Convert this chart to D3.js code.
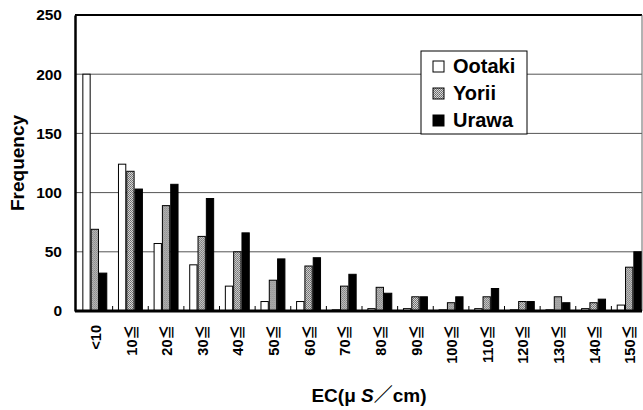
<!DOCTYPE html>
<html>
<head>
<meta charset="utf-8">
<script src="https://cdn.jsdelivr.net/npm/d3@7"></script>
<style>
  body { margin: 0; background: #fff; }
  svg { display: block; }
</style>
</head>
<body>
<svg id="chart"></svg>
<script>
const categories = ["<10", "10≦", "20≦", "30≦", "40≦", "50≦", "60≦", "70≦",
  "80≦", "90≦", "100≦", "110≦", "120≦", "130≦", "140≦", "150≦"];
const seriesNames = ["Ootaki", "Yorii", "Urawa"];
const ootaki = [200, 124, 57, 39, 21, 8, 8, 1, 2, 2, 1, 2, 1, 1, 2, 5];
const yorii = [69, 118, 89, 63, 50, 26, 38, 21, 20, 12, 7, 12, 8, 12, 7, 37];
const urawa = [32, 103, 107, 95, 66, 44, 45, 31, 15, 12, 12, 19, 8, 7, 10, 50];
const yTicks = [0, 50, 100, 150, 200, 250];

const width = 643, height = 410;
const plot = { left: 75, right: 642, top: 15, bottom: 311 };

const svg = d3.select("#chart").attr("width", width).attr("height", height);

// stippled grey like the scanned original
const defs = svg.append("defs");
const pat = defs.append("pattern")
  .attr("id", "stipple")
  .attr("width", 2).attr("height", 2)
  .attr("patternUnits", "userSpaceOnUse");
pat.append("rect").attr("width", 2).attr("height", 2).attr("fill", "#d8d8d8");
pat.append("rect").attr("width", 1).attr("height", 1).attr("fill", "#666");
pat.append("rect").attr("x", 1).attr("y", 1).attr("width", 1).attr("height", 1).attr("fill", "#777");

const fills = { Ootaki: "#fff", Yorii: "url(#stipple)", Urawa: "#000" };

const x0 = d3.scaleBand()
  .domain(categories)
  .range([77, 647])
  .paddingInner(0.3)
  .paddingOuter(0.15);

const x1 = d3.scaleBand()
  .domain(seriesNames)
  .range([0, x0.bandwidth()]);

const y = d3.scaleLinear()
  .domain([0, 250])
  .range([plot.bottom, plot.top]);

const rows = categories.map((c, i) => ({
  cat: c,
  Ootaki: ootaki[i],
  Yorii: yorii[i],
  Urawa: urawa[i]
}));

// gridlines
svg.append("g")
  .selectAll("line")
  .data(yTicks.filter(t => t > 0 && t < 250))
  .enter().append("line")
  .attr("x1", plot.left).attr("x2", plot.right)
  .attr("y1", d => y(d)).attr("y2", d => y(d))
  .attr("stroke", "#555")
  .attr("stroke-width", 1);

// frame
svg.append("line")
  .attr("x1", plot.left).attr("x2", plot.right)
  .attr("y1", y(250)).attr("y2", y(250))
  .attr("stroke", "#000").attr("stroke-width", 2);
svg.append("line")
  .attr("x1", plot.right).attr("x2", plot.right)
  .attr("y1", y(250)).attr("y2", y(0))
  .attr("stroke", "#666").attr("stroke-width", 1);

// bars
const groups = svg.append("g")
  .selectAll("g")
  .data(rows)
  .enter().append("g")
  .attr("transform", d => `translate(${x0(d.cat)},0)`);

groups.selectAll("rect")
  .data(d => seriesNames.map(s => ({ s, v: d[s] })))
  .enter().append("rect")
  .attr("x", d => x1(d.s) + 0.5)
  .attr("y", d => y(d.v))
  .attr("width", x1.bandwidth() - 1)
  .attr("height", d => y(0) - y(d.v))
  .attr("fill", d => fills[d.s])
  .attr("stroke", "#000")
  .attr("stroke-width", 1);

// y axis
const yAxis = svg.append("g")
  .attr("transform", `translate(${plot.left},0)`)
  .call(d3.axisLeft(y).tickValues(yTicks).tickSize(0).tickPadding(13));
yAxis.select(".domain").attr("stroke", "#000").attr("stroke-width", 2.5);
yAxis.selectAll("text")
  .attr("font-family", "Liberation Sans, Arial, sans-serif")
  .attr("font-size", 15.5)
  .attr("font-weight", "bold")
  .attr("fill", "#000");

// x axis
const xAxis = svg.append("g")
  .attr("transform", `translate(0,${plot.bottom})`)
  .call(d3.axisBottom(x0).tickSize(0).tickPadding(0));
xAxis.select(".domain").remove();
xAxis.append("line")
  .attr("x1", plot.left).attr("x2", plot.right)
  .attr("stroke", "#000").attr("stroke-width", 3);
xAxis.selectAll(".tick")
  .append("line")
  .attr("x1", x0.step() / 2).attr("x2", x0.step() / 2)
  .attr("y1", 0).attr("y2", -5)
  .attr("stroke", "#000");
xAxis.selectAll(".tick text")
  .attr("font-family", "Liberation Sans, Arial, 'Noto Sans CJK JP', sans-serif")
  .attr("font-size", 14.5)
  .attr("font-weight", "bold")
  .attr("fill", "#000")
  .attr("text-anchor", "end")
  .attr("dy", "0.35em")
  .attr("transform", "translate(1,14) rotate(-90)");

// axis titles
svg.append("text")
  .attr("transform", "translate(24,163) rotate(-90)")
  .attr("text-anchor", "middle")
  .attr("font-family", "Liberation Sans, Arial, sans-serif")
  .attr("font-size", 19)
  .attr("font-weight", "bold")
  .text("Frequency");

const xt = svg.append("text")
  .attr("x", 369).attr("y", 402)
  .attr("text-anchor", "middle")
  .attr("font-family", "Liberation Sans, Arial, 'Noto Sans CJK JP', sans-serif")
  .attr("font-size", 19)
  .attr("font-weight", "bold");
xt.append("tspan").text("EC(μ ");
xt.append("tspan").attr("font-style", "italic").text("S");
xt.append("tspan").text("／cm)");

// legend
const legend = svg.append("g");
legend.append("rect")
  .attr("x", 421).attr("y", 51)
  .attr("width", 106).attr("height", 83)
  .attr("fill", "#fff")
  .attr("stroke", "#000");
const items = legend.selectAll("g.item")
  .data(seriesNames)
  .enter().append("g")
  .attr("class", "item")
  .attr("transform", (d, i) => `translate(433,${73 + i * 27})`);
items.append("rect")
  .attr("x", 0).attr("y", -12)
  .attr("width", 11).attr("height", 11)
  .attr("fill", d => fills[d])
  .attr("stroke", "#000");
items.append("text")
  .attr("x", 20)
  .attr("font-family", "Liberation Sans, Arial, sans-serif")
  .attr("font-size", 20)
  .attr("font-weight", "bold")
  .text(d => d);
</script>
</body>
</html>
